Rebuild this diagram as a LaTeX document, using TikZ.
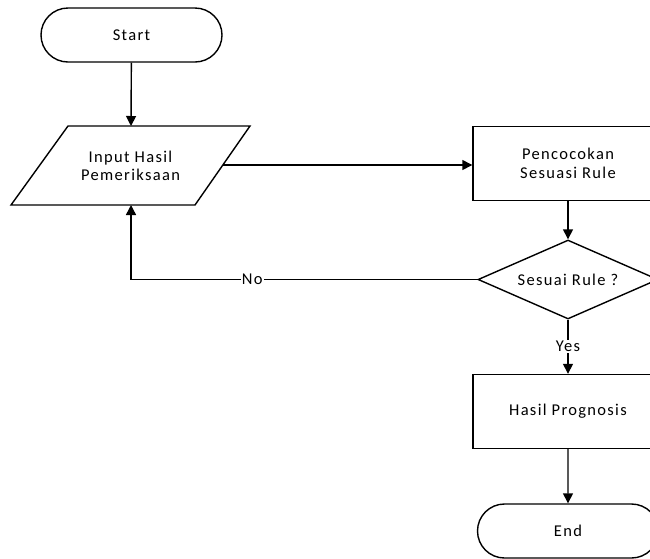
\documentclass[tikz,border=0pt]{standalone}
\usepackage{fontspec}
\setmainfont{Carlito}[LetterSpace=8]
\usetikzlibrary{shapes.geometric,shapes.misc,arrows.meta}
\begin{document}
\begin{tikzpicture}[x=1pt,y=-1pt,
  line width=1.4pt,
  every node/.style={font=\fontsize{16.5}{18.5}\selectfont, text=black, align=center, inner sep=0pt},
  term/.style={draw, rounded rectangle, minimum width=181pt, minimum height=54pt},
  proc/.style={draw, rectangle, minimum width=190pt, minimum height=74pt},
  dec/.style={draw, diamond, aspect=2.28, minimum width=180pt, minimum height=79pt},
  lbl/.style={fill=white, inner sep=1pt},
  arr/.style={-{Triangle[width=10pt,length=10pt]}}
]
\useasboundingbox (0,0) rectangle (650,558);
\clip (0,0) rectangle (650,558);
\node[term] (start) at (131.5,35) {Start};
\draw (68,126) -- (250,126) -- (195,205) -- (11,205) -- cycle;
\node (inp) at (130.5,166) {Input Hasil\\Pemeriksaan};
\coordinate (inpN) at (131,126);
\coordinate (inpE) at (222.5,165);
\coordinate (inpS) at (131,205);
\node[proc] (cocok) at (568,163.5) {Pencocokan\\Sesuasi Rule};
\node[dec] (rule) at (568,279.5) {Sesuai Rule ?};
\node[proc] (hasil) at (568,411.5) {Hasil Prognosis};
\node[term] (end) at (568,531) {End};
\coordinate (corner) at (131,279.5);
\draw[arr] (start) -- (inpN);
\draw[arr] (inpE) -- (inpE -| cocok.west);
\draw[arr] (cocok) -- (rule);
\draw[arr] (rule) -- node[lbl] {Yes} (hasil);
\draw[arr] (hasil) -- (end);
\draw[arr] (rule.west) -- node[lbl, pos=0.65] {No} (corner) -- (inpS);
\end{tikzpicture}
\end{document}
